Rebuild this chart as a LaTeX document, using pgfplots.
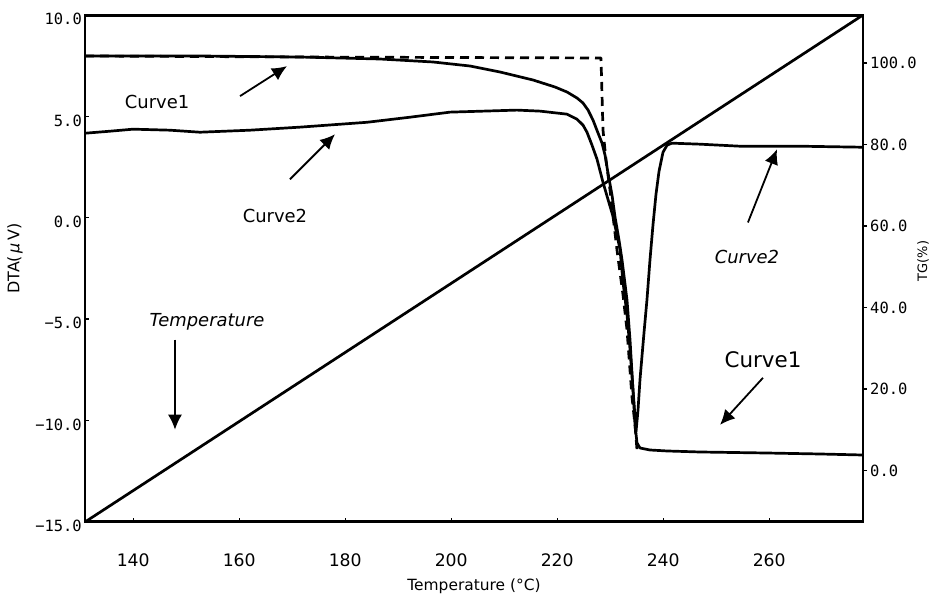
\documentclass[border=0pt]{standalone}
\usepackage{fontspec}
\setmainfont{DejaVu Sans}
\newfontfamily\monofont{DejaVu Sans Mono}
\usepackage{pgfplots}
\pgfplotsset{compat=1.18}
\usetikzlibrary{arrows.meta}

\newcommand{\fs}[1]{\fontsize{#1}{#1}\selectfont}

\begin{document}
\begin{tikzpicture}
\tikzset{
  note arrow/.style={line width=1.8bp, -{Latex[length=15bp,width=14bp]}},
}
\pgfplotsset{
  thermo frame/.style={
    scale only axis, width=778bp, height=507bp,
    at={(0,0)}, anchor=south west,
    xmin=130.9, xmax=277.7,
    axis line style={line width=2.2bp},
    major tick length=4bp,
    every tick/.style={line width=1.4bp, black},
  },
  curve/.style={black, line width=2.7bp, line join=round, no marks},
}

% DTA signal and furnace temperature (left axis)
\begin{axis}[thermo frame,
  ymin=-15, ymax=10,
  xtick pos=bottom, ytick pos=left, tick align=inside,
  xtick={140,160,...,260},
  xticklabels={140,160,180,200,220,240,260},
  xticklabel style={font=\fs{17.3}, anchor=center, yshift=-38bp},
  ytick={-15,-10,-5,0,5,10},
  yticklabels={−15.0,−10.0,−5.0,0.0,5.0,10.0},
  yticklabel style={font=\monofont\fs{15.5}, anchor=east, inner sep=0pt, xshift=-3bp, yshift=-4bp},
  xlabel={Temperature (°C)},
  every axis x label/.style={at={(axis description cs:0.5,0)}, anchor=center,
    xshift=0bp, yshift=-64bp, font=\fs{15.5}},
  ylabel={DTA(\,\textit{μ}\,V)},
  every axis y label/.style={at={(axis description cs:0,0.5)}, anchor=center,
    xshift=-70bp, yshift=10bp, rotate=90, font=\fs{16}},
]
% furnace temperature ramp
\addplot[curve] coordinates {(130.9,-15) (277.7,10)};

% Curve2 (DTA)
\addplot[curve] table {
130.90 4.17
135.62 4.27
139.96 4.37
146.94 4.32
152.60 4.22
162.03 4.32
171.47 4.47
184.11 4.71
192.22 4.96
199.77 5.21
212.41 5.31
216.75 5.26
221.85 5.11
223.74 4.86
224.87 4.57
225.62 4.22
226.57 3.58
227.51 2.89
228.64 1.75
229.58 0.91
230.53 0.07
231.85 -1.56
232.42 -3.19
233.17 -4.77
233.74 -6.50
234.30 -8.48
234.68 -9.81
234.87 -10.55
235.25 -9.47
235.62 -7.98
236.38 -5.66
236.94 -4.03
237.51 -2.06
238.08 -0.33
238.64 1.16
239.21 2.29
239.96 3.23
240.72 3.58
241.66 3.68
246.94 3.63
254.49 3.53
265.81 3.53
277.70 3.48
};

% annotations
\node[font=\fs{18}] at (axis cs:144.5,5.70) {Curve1};
\draw[note arrow] (axis cs:160.15,6.00) -- (axis cs:169.02,7.48);
\node[font=\fs{18}] at (axis cs:166.75,0.07) {Curve2};
\draw[note arrow] (axis cs:169.58,1.90) -- (axis cs:178.07,4.12);
\node[font=\fs{18}\itshape] at (axis cs:153.92,-5.12) {Temperature};
\draw[note arrow] (axis cs:147.88,-6.01) -- (axis cs:147.88,-10.45);
\node[font=\fs{18}\itshape] at (axis cs:255.81,-1.91) {Curve2};
\draw[note arrow] (axis cs:255.99,-0.23) -- (axis cs:261.47,3.38);
\node[font=\fs{21.5}] at (axis cs:258.83,-7.00) {Curve1};
\draw[note arrow] (axis cs:258.83,-7.89) -- (axis cs:250.72,-10.21);

% heavier top and bottom frame lines
\draw[line width=3.5bp] (rel axis cs:0,1) -- (rel axis cs:1,1);
\draw[line width=3.2bp] (rel axis cs:0,0) -- (rel axis cs:1,0);
\end{axis}

% TG mass curves (right axis)
\begin{axis}[thermo frame,
  ymin=-12.64, ymax=111.78,
  axis x line=none, axis y line*=right,
  tick align=outside,
  ytick={0,20,...,100},
  yticklabels={0.0,20.0,40.0,60.0,80.0,100.0},
  yticklabel style={font=\monofont\fs{15.5}, anchor=west, inner sep=0pt, xshift=3bp},
  ylabel={TG(\%)},
  every axis y label/.style={at={(axis description cs:1,0.5)}, anchor=center,
    xshift=60bp, yshift=7.5bp, rotate=90, font=\fs{13}},
]
% Curve1 (TG)
\addplot[curve] table {
130.90 101.72
152.60 101.72
171.47 101.47
186.56 100.98
196.56 100.25
203.55 99.26
209.21 97.79
215.43 95.83
219.58 94.11
221.85 92.88
223.74 91.41
224.87 90.18
225.81 88.47
226.75 86.01
227.70 82.82
228.45 80.37
229.02 77.42
229.58 73.01
230.34 67.61
230.91 62.21
231.66 56.56
232.23 51.66
233.17 41.84
233.74 32.02
234.30 19.75
234.68 11.17
235.06 6.75
235.62 5.52
237.51 5.03
240.72 4.79
246.94 4.54
259.59 4.29
269.59 4.05
277.70 3.80
};
% reference step (dashed)
\addplot[curve, dash pattern=on 9bp off 6bp] table {
130.90 101.72
171.47 101.47
228.26 101.23
228.64 83.56
229.21 76.20
229.96 68.83
231.28 54.11
232.42 43.07
233.17 34.48
234.11 18.04
234.68 11.17
235.06 5.03
};
\end{axis}

\pgfresetboundingbox
\path[use as bounding box] (-85bp,-73bp) rectangle (848bp,522bp);
\end{tikzpicture}
\end{document}
